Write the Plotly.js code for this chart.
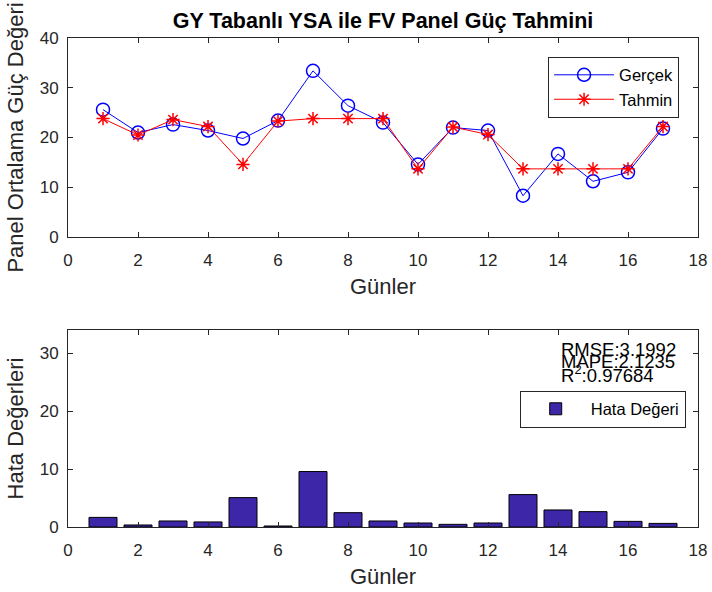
<!DOCTYPE html>
<html>
<head>
<meta charset="utf-8">
<script src="https://cdn.plot.ly/plotly-3.0.1.min.js"></script>
<style>html,body{margin:0;padding:0;background:#fff;}#chart{width:712px;height:592px;}</style>
</head>
<body>
<div id="chart"></div>
<script>
var days = [1,2,3,4,5,6,7,8,9,10,11,12,13,14,15,16,17];
var gercek = [25.6,21.0,22.6,21.4,19.8,23.4,33.4,26.4,23.0,14.6,22.0,21.4,8.3,16.7,11.2,13.0,21.8];
var tahmin = [23.8,20.5,23.6,22.2,14.6,23.3,23.8,23.8,23.8,13.7,22.1,20.6,13.7,13.7,13.7,13.7,22.2];
var hata = [1.66,0.35,1.04,0.87,5.07,0.17,9.57,2.47,1.04,0.69,0.46,0.69,5.59,2.94,2.65,0.97,0.62];
var xTicks = [0,2,4,6,8,10,12,14,16,18];
var yTicksTop = [0,10,20,30,40];
var yTicksBot = [0,10,20,30];
var metrics = ["RMSE:3.1992","MAPE:2.1235","R<sup>2</sup>:0.97684"];

var FONT = "Liberation Sans, Arial, sans-serif";
var AX = "#262626";
var TICKF = {size: 17, color: AX, family: FONT};
var TITLEF = {size: 22, color: AX, family: FONT};

var traces = [
  {x: days, y: gercek, name: "Gerçek", type: "scatter", mode: "lines+markers",
   line: {color: "#0000ff", width: 1},
   marker: {symbol: "circle-open", size: 13, color: "#0000ff", line: {width: 1.5}},
   xaxis: "x", yaxis: "y", legend: "legend"},
  {x: days, y: tahmin, name: "Tahmin", type: "scatter", mode: "lines+markers",
   line: {color: "#ff0000", width: 1},
   marker: {symbol: "asterisk-open", size: 11, color: "#ff0000", line: {width: 1.5, color: "#ff0000"}},
   xaxis: "x", yaxis: "y", legend: "legend"},
  {x: days, y: hata, name: "Hata Değeri", type: "bar", width: 0.8,
   marker: {color: "rgb(62,38,168)", line: {color: "#000000", width: 1}},
   xaxis: "x2", yaxis: "y2", legend: "legend2"}
];

function xa(anchor){
  return {range: [0,18], tickvals: xTicks, ticks: "inside", ticklen: 5, tickcolor: AX,
    showline: true, mirror: "ticks", linecolor: AX, linewidth: 1, showgrid: false, zeroline: false,
    tickfont: TICKF, ticklabelstandoff: 8,
    title: {text: "Günler", font: TITLEF, standoff: 9},
    anchor: anchor, domain: [0,1]};
}
function ya(dom, rng, tv, txt, anchor){
  return {domain: dom, range: rng, tickvals: tv, ticks: "inside", ticklen: 5, tickcolor: AX,
    showline: true, mirror: "ticks", linecolor: AX, showgrid: false, zeroline: false,
    tickfont: TICKF, ticklabelstandoff: 5,
    title: {text: txt, font: TITLEF, standoff: 9}, anchor: anchor};
}

var layout = {
  width: 712, height: 592,
  margin: {l: 68, r: 14, t: 38, b: 65},
  paper_bgcolor: "#ffffff", plot_bgcolor: "#ffffff",
  font: {family: FONT, color: AX},
  showlegend: true,
  title: {text: "<b>GY Tabanlı YSA ile FV Panel Güç Tahmini</b>", font: {size: 21.5, color: "#000", family: FONT},
    x: 0.5, xref: "paper", xanchor: "center", y: 0.966, yref: "container", yanchor: "middle"},
  xaxis: xa("y"),
  yaxis: ya([0.593, 1], [0,40], yTicksTop, "Panel Ortalama Güç Değeri", "x"),
  xaxis2: xa("y2"),
  yaxis2: ya([0, 0.403], [0,34], yTicksBot, "Hata Değerleri", "x2"),
  legend: {x: 0.762, y: 0.962, xanchor: "left", yanchor: "top", bgcolor: "#fff",
    bordercolor: AX, borderwidth: 1, font: {size: 16.5, color: "#000", family: FONT},
    itemwidth: 60, tracegroupgap: 0},
  legend2: {x: 0.717, y: 0.279, xanchor: "left", yanchor: "top", bgcolor: "#fff",
    bordercolor: AX, borderwidth: 1, font: {size: 16.5, color: "#000", family: FONT}, itemwidth: 60},
  annotations: [
    {text: metrics[0], xref: "paper", yref: "paper", x: 0.779, y: 0.363, xanchor: "left", yanchor: "middle", showarrow: false, font: {size: 18.5, color: "#000", family: FONT}},
    {text: metrics[1], xref: "paper", yref: "paper", x: 0.779, y: 0.339, xanchor: "left", yanchor: "middle", showarrow: false, font: {size: 18.5, color: "#000", family: FONT}},
    {text: metrics[2], xref: "paper", yref: "paper", x: 0.779, y: 0.313, xanchor: "left", yanchor: "middle", showarrow: false, font: {size: 18.5, color: "#000", family: FONT}}
  ]
};

Plotly.newPlot("chart", traces, layout, {displayModeBar: false, staticPlot: true});
</script>
</body>
</html>
